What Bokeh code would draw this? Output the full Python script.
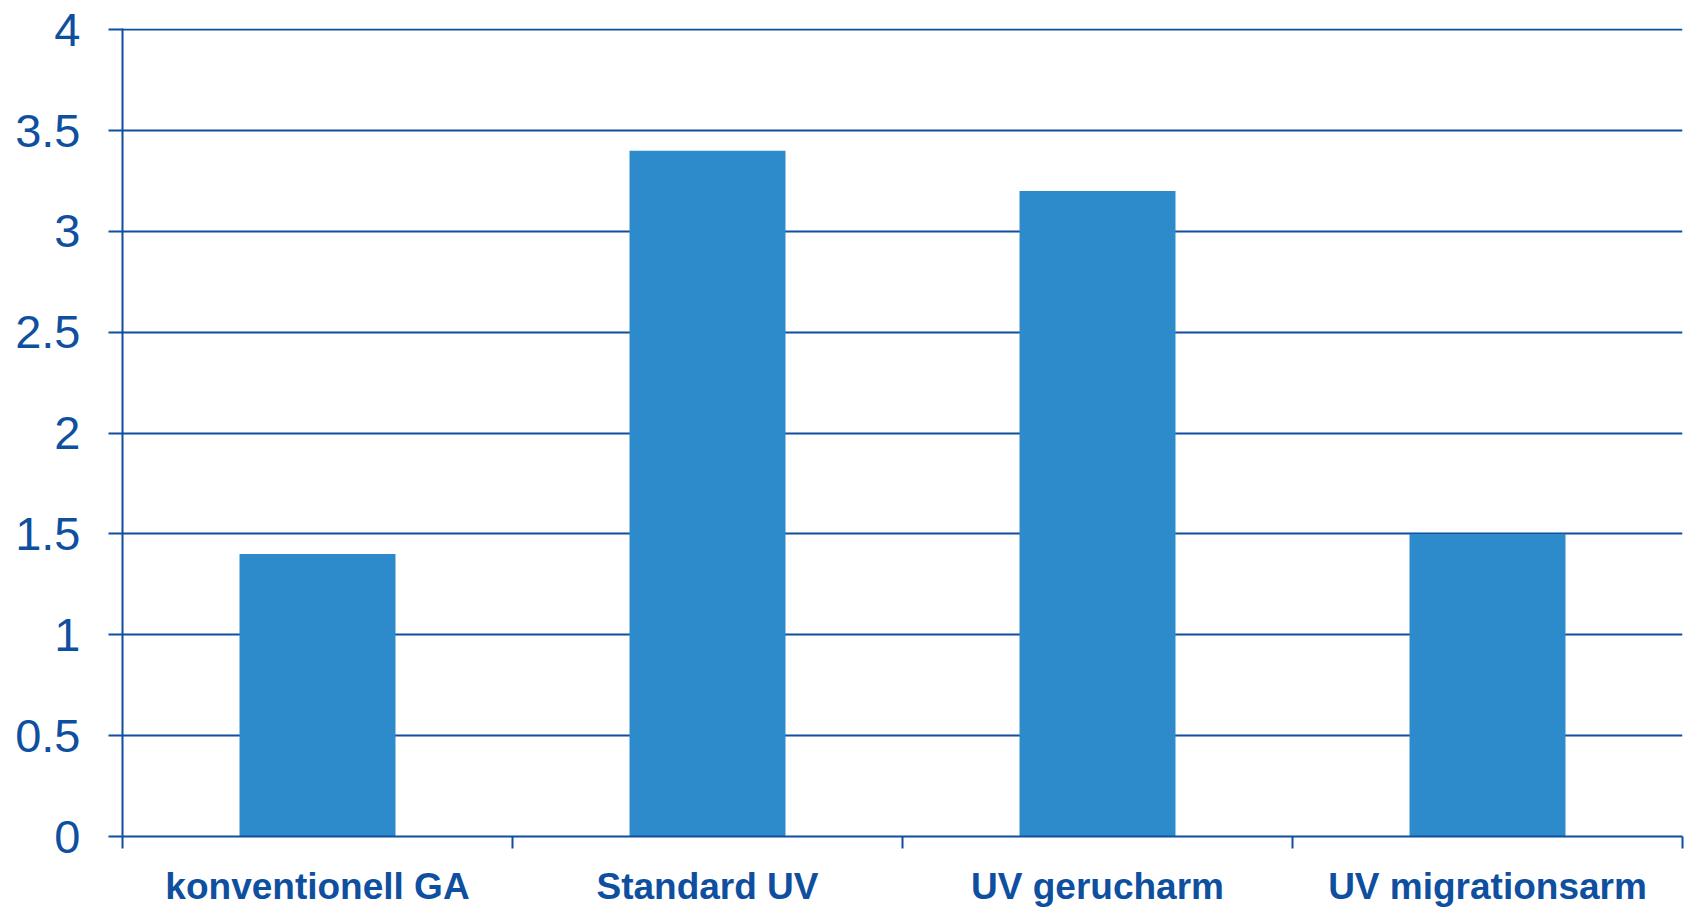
from bokeh.plotting import figure
from bokeh.models import FixedTicker, LinearAxis, Range1d, ColumnDataSource
from bokeh.embed import file_html
from bokeh.resources import INLINE
import numpy as np

categories = ["konventionell GA", "Standard UV", "UV gerucharm", "UV migrationsarm"]
values = [1.4, 3.4, 3.2, 1.5]
y_ticks = [0, 0.5, 1, 1.5, 2, 2.5, 3, 3.5, 4]
y_tick_labels = ["0", "0.5", "1", "1.5", "2", "2.5", "3", "3.5", "4"]

DARK = "#0F4F9F"
BAR = "#2E8BCB"
FONT = "Liberation Sans"

n = len(categories)
centers = list(np.arange(n) + 0.5)
src = ColumnDataSource(dict(x=centers, top=values, cat=categories))

p = figure(width=1690, height=910, output_backend="svg", toolbar_location=None,
           x_range=Range1d(0, n), y_range=Range1d(0, 4.006),
           x_axis_location=None, min_border_left=122, min_border_right=8,
           min_border_top=28, min_border_bottom=74)
p.outline_line_color = None
p.background_fill_color = "white"

p.vbar(x="x", top="top", width=0.4, source=src, fill_color=BAR, line_color=None)

# y axis
ya = p.yaxis[0]
ya.ticker = FixedTicker(ticks=y_ticks)
ya.major_label_overrides = {t: l for t, l in zip(y_ticks, y_tick_labels)}
ya.axis_line_color = DARK
ya.axis_line_width = 2
ya.major_tick_line_color = DARK
ya.major_tick_line_width = 2
ya.major_tick_out = 14
ya.major_tick_in = 0
ya.minor_tick_line_color = None
ya.major_label_standoff = 28
ya.major_label_text_font = FONT
ya.major_label_text_font_size = "47px"
ya.major_label_text_color = DARK

p.ygrid.ticker = FixedTicker(ticks=y_ticks)
p.ygrid.grid_line_color = DARK
p.ygrid.grid_line_width = 2
p.xgrid.grid_line_color = None

# x axis with boundary ticks
xa = LinearAxis(ticker=FixedTicker(ticks=list(range(n + 1))))
xa.major_label_overrides = {i: "" for i in range(n + 1)}
xa.axis_line_color = DARK
xa.axis_line_width = 2
xa.major_tick_line_color = DARK
xa.major_tick_line_width = 2
xa.major_tick_out = 12
xa.major_tick_in = 0
xa.minor_tick_line_color = None
xa.major_label_standoff = 0
xa.major_label_text_font_size = "1px"
p.add_layout(xa, "below")

# x axis with category labels
xl = LinearAxis(ticker=FixedTicker(ticks=centers))
xl.major_label_overrides = {c: cat for c, cat in zip(centers, categories)}
xl.axis_line_color = None
xl.major_tick_line_color = None
xl.minor_tick_line_color = None
xl.major_tick_out = 0
xl.major_tick_in = 0
xl.major_label_standoff = 17
xl.major_label_text_font = FONT
xl.major_label_text_font_style = "bold"
xl.major_label_text_font_size = "37px"
xl.major_label_text_color = DARK
p.add_layout(xl, "below")

open("out.html", "w").write(file_html(p, INLINE))
